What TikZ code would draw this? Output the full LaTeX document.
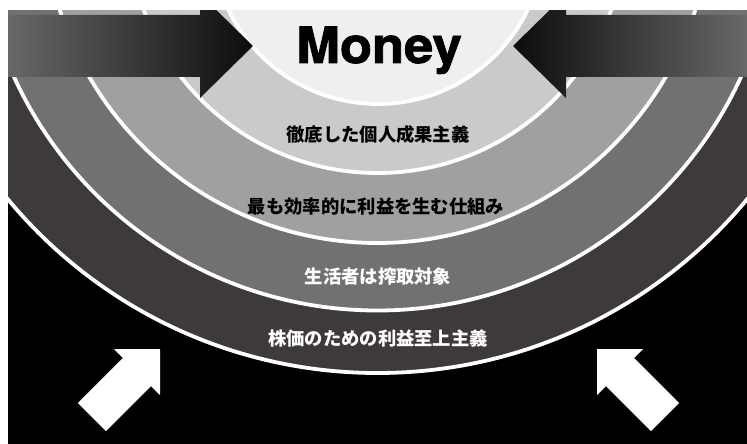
\documentclass[tikz,border=0pt]{standalone}
\usepackage{fontspec}
\setmainfont{TeX Gyre Heros}
\newfontfamily\heavy{TeX Gyre Heros}[BoldFeatures={FakeBold=1.6}]
\newfontfamily\cjk{Noto Sans CJK JP}
\definecolor{c0}{HTML}{EFEFEF}
\definecolor{c1}{HTML}{C9CACA}
\definecolor{c2}{HTML}{9FA0A0}
\definecolor{c3}{HTML}{727171}
\definecolor{c4}{HTML}{3E3A39}
\definecolor{agray}{HTML}{686868}
\definecolor{adark}{HTML}{0C0C0C}
\tikzset{
  ring/.style={draw=white, line width=3.8pt},
  jtext/.style={font=\cjk\bfseries\fontsize{18.3}{20}\selectfont, inner sep=0pt},
  bigarrow/.style={draw=none},
  smallarrow/.style={fill=white, draw=none}
}
\begin{document}
\begin{tikzpicture}[x=1pt,y=-1pt]
\useasboundingbox (0,0) rectangle (747,444);
\fill[white] (0,0) rectangle (747,444);
\begin{scope}
\clip (8,11) rectangle (747,444);
\fill[black] (8,11) rectangle (747,444);
% concentric bands
\filldraw[ring, fill=c4] (377.5,-107) circle[radius=480pt];
\filldraw[ring, fill=c3] (377.5,-89) circle[radius=399.5pt];
\filldraw[ring, fill=c2] (377.5,-90) circle[radius=333pt];
\filldraw[ring, fill=c1] (377.5,-76) circle[radius=249pt];
\filldraw[ring, fill=c0] (378,-62) circle[radius=166pt];
% big arrows at top
\shade[bigarrow, left color=agray, right color=adark]
  (8,15) -- (200,15) -- (200,-6) -- (253,46) -- (200,98) -- (200,77) -- (8,77) -- cycle;
\shade[bigarrow, left color=adark, right color=agray]
  (747,15) -- (566,15) -- (566,-6) -- (513,46) -- (566,98) -- (566,77) -- (747,77) -- cycle;
% small white arrows
\fill[smallarrow] (160,349) -- (160,395) -- (151.1,386.1) -- (106.1,431.1) -- (77.9,402.9) -- (122.9,357.9) -- (114,349) -- cycle;
\fill[smallarrow] (597,349) -- (597,395) -- (605.9,386.1) -- (650.9,431.1) -- (679.1,402.9) -- (634.1,357.9) -- (643,349) -- cycle;
\end{scope}
% texts
\node[anchor=base, inner sep=0pt, xscale=1.05, font=\heavy\bfseries\fontsize{50}{50}\selectfont] (money) at (379,63) {Money};
\node[jtext, text=black] (t1) at (378,135) {徹底した個人成果主義};
\node[jtext, text=black] (t2) at (376,207) {最も効率的に利益を生む仕組み};
\node[jtext, text=white] (t3) at (378,277) {生活者は搾取対象};
\node[jtext, text=white] (t4) at (378,338) {株価のための利益至上主義};
\end{tikzpicture}
\end{document}
